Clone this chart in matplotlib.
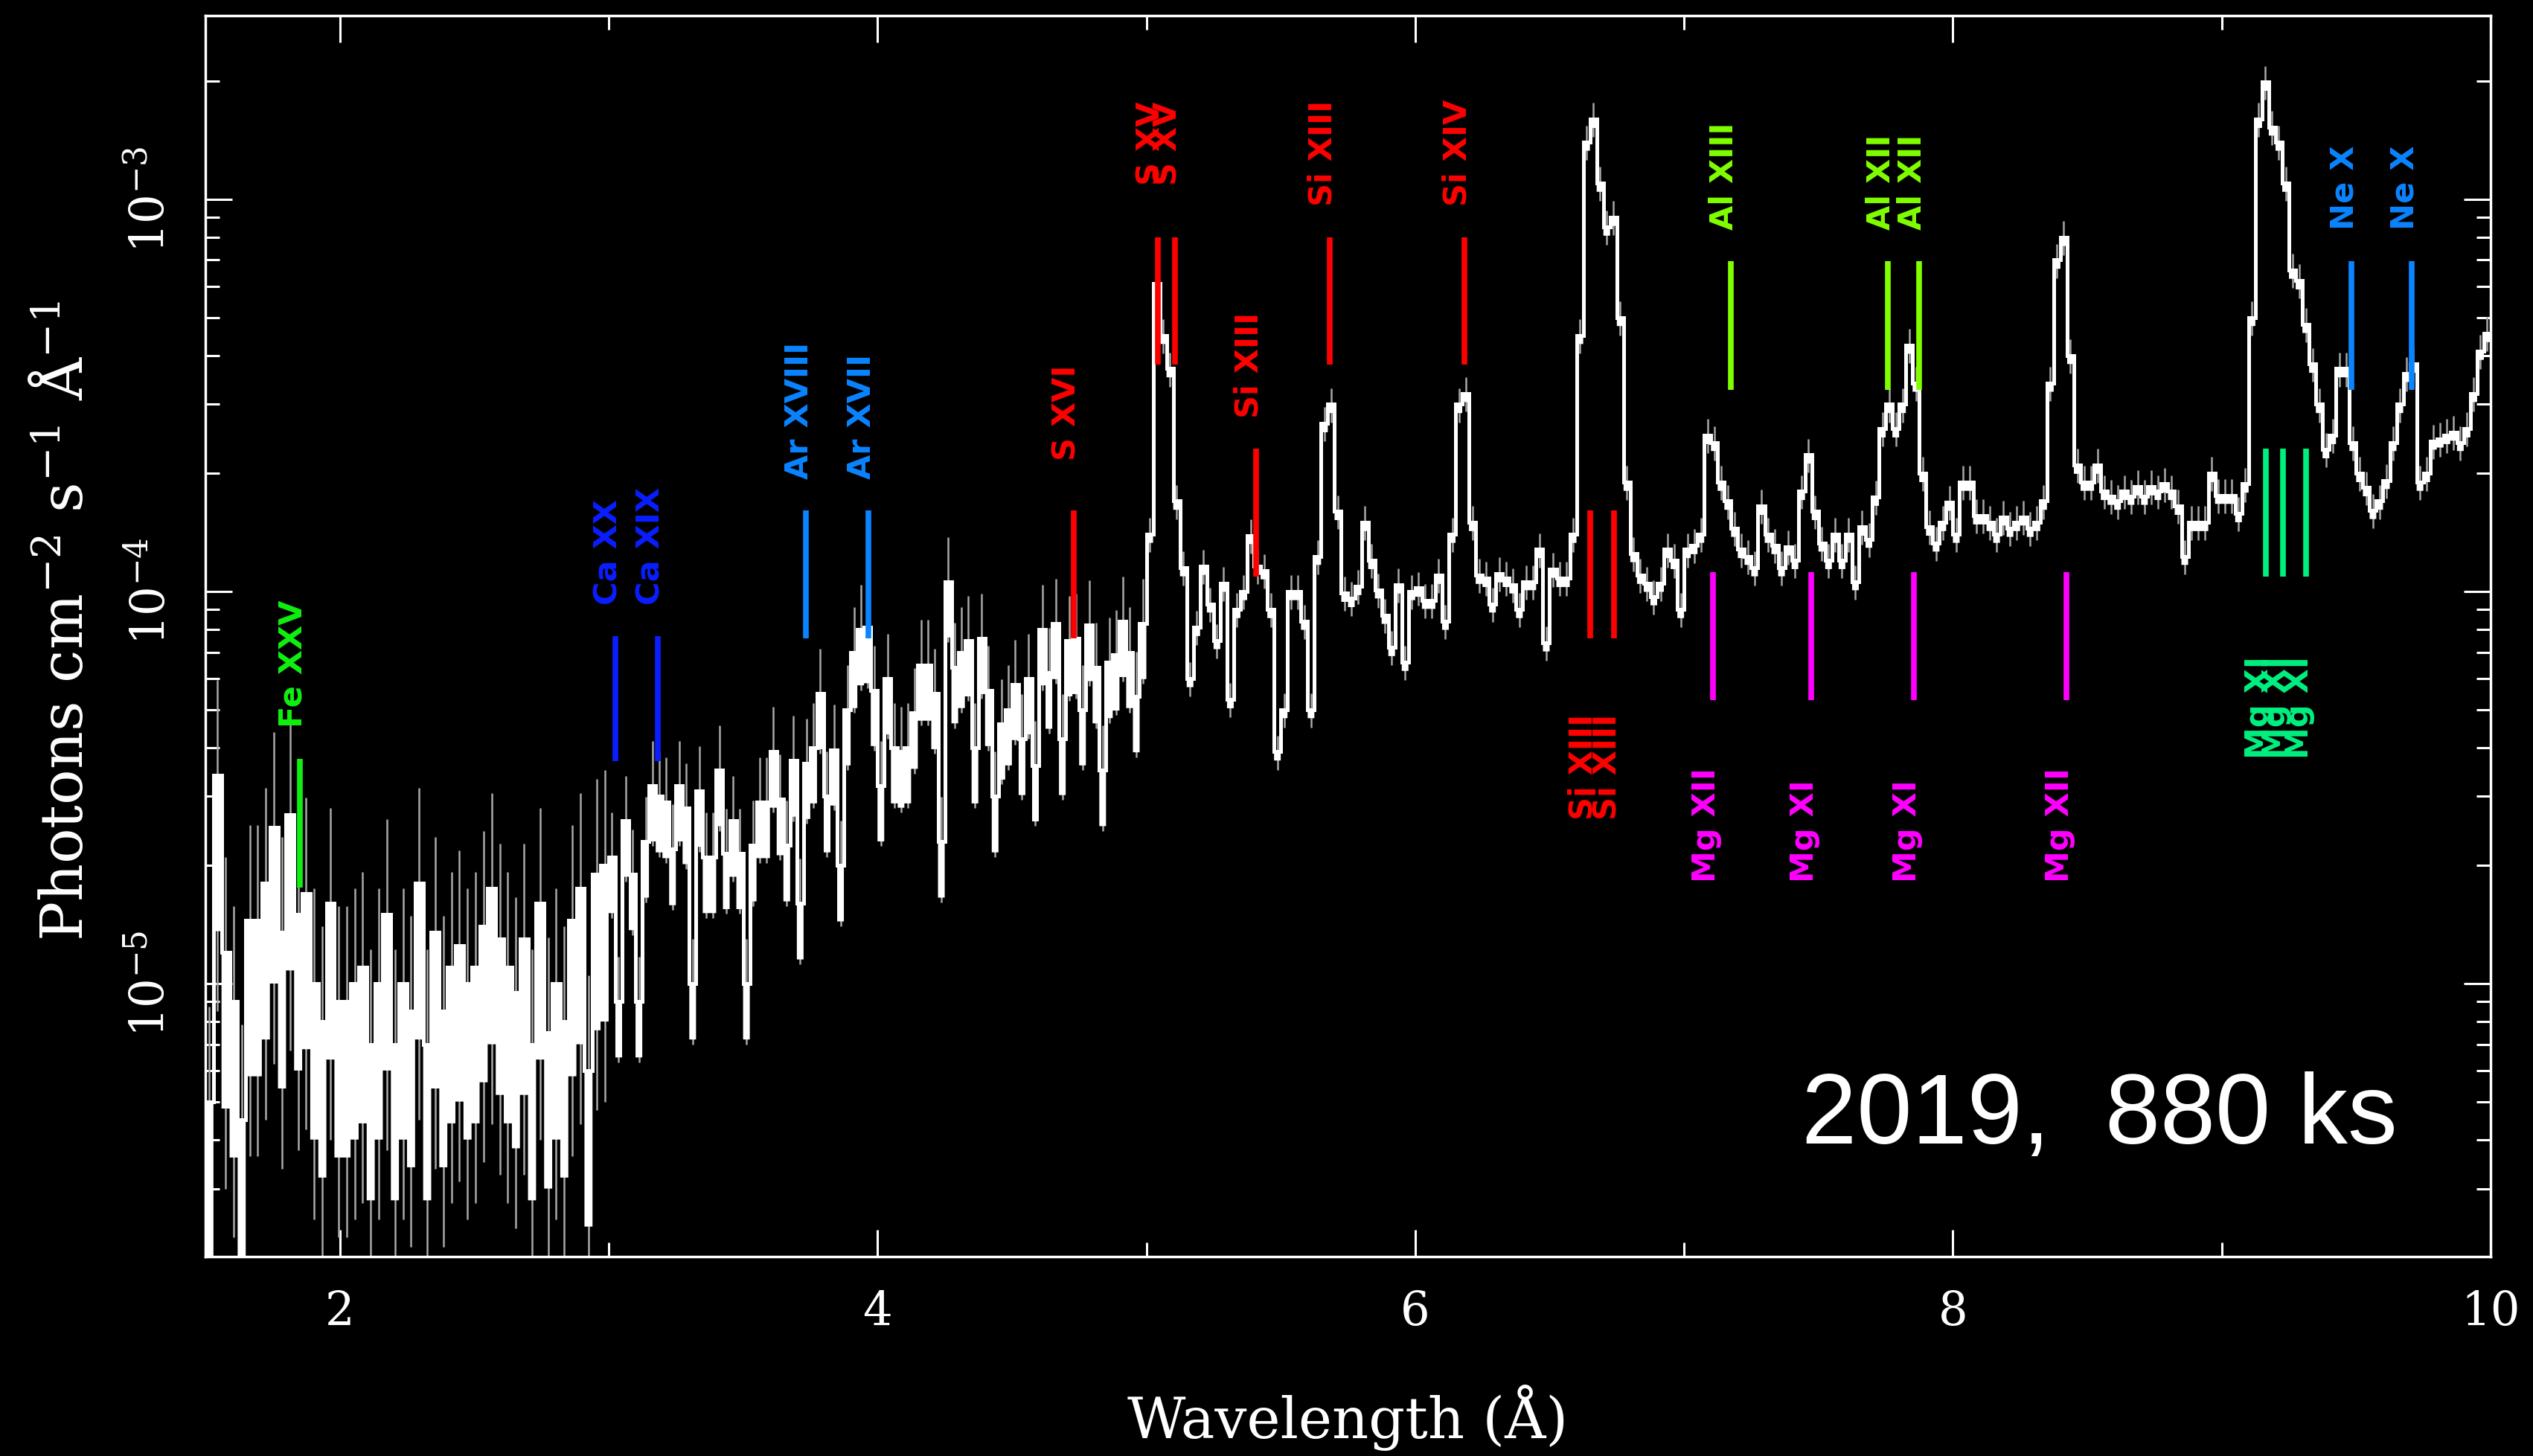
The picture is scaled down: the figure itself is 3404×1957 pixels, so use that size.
import numpy as np
import matplotlib
matplotlib.use("Agg")
import matplotlib.pyplot as plt
from matplotlib.ticker import MultipleLocator, LogLocator, NullFormatter, LogFormatterMathtext

# ---------------- data (flux in units of 1e-5 photons cm^-2 s^-1 A^-1) ----------------
seg_a_start, seg_a_width = 1.50, 0.03
flux_a = [0.5, 3.4, 1.2, 0.9, 0.45, 1.45, 1.45, 1.8, 2.5, 1.35,
          2.7, 1.5, 1.7, 1.0, 0.8, 1.6, 0.9, 0.9, 1.0, 1.1,
          0.7, 1.0, 1.5, 0.7, 1.0, 0.85, 1.8, 0.7, 1.35, 0.85,
          1.1, 1.25, 1.0, 1.1, 1.4, 1.75, 1.3, 1.1, 0.95, 1.3,
          0.7, 1.6, 0.75, 1.0, 0.8, 1.45, 1.75, 0.6, 1.9, 2.0]

seg_b_start, seg_b_width = 3.00, 0.025
flux_b = [2.1, 0.9, 2.6, 1.9, 0.9, 2.3, 3.2, 3.0, 2.9, 2.2,
          3.2, 2.8, 1.0, 3.1, 2.1, 2.1, 3.5, 2.15, 2.6, 2.15,
          1.0, 2.25, 2.9, 2.9, 3.9, 2.95, 2.25, 3.7, 1.6, 3.65,
          4.0, 5.5, 3.0, 3.95, 2.0, 5.0, 7.0, 8.0, 8.1, 5.6,
          3.2, 6.0, 4.0, 3.9, 4.0, 4.9, 6.5, 6.5, 5.5, 2.3,
          10.6, 6.4, 7.0, 7.5, 4.0, 7.6, 5.6, 3.0, 4.6, 5.0,
          5.8, 4.2, 6.0, 3.6, 8.0, 6.2, 8.3, 4.2, 7.5, 7.6,
          5.0, 8.2, 6.4, 3.5, 6.6, 6.9, 8.4, 7.0, 5.4, 8.3]

seg_c_start, seg_c_width = 5.00, 0.025
flux_c = [14, 61, 45, 37, 17, 11.5, 6.0, 8.1, 11.6, 9.3,
          7.5, 10.5, 5.3, 9.0, 10.0, 13.9, 11.6, 11.3, 9.0, 3.9,
          5.0, 10.0, 10.0, 8.4, 5.0, 12.3, 26.8, 30, 16, 9.9,
          9.6, 10.3, 15.0, 12, 10.1, 8.7, 7.2, 10.4, 6.6, 10.0,
          10.2, 9.5, 9.5, 11.0, 8.4, 14, 30, 32, 15, 11,
          10.8, 9.3, 11.1, 10.8, 10.4, 9.0, 10.6, 10.6, 12.8, 7.4,
          11.4, 10.8, 10.8, 14, 45, 140, 160, 110, 85, 90,
          50, 19, 12.5, 11, 10.5, 9.7, 10.5, 12.8, 12, 9.0,
          12.8, 13.1, 14, 25, 24, 19, 17, 14.5, 12.8, 12.3,
          11.5, 16.5, 14, 13.1, 11.5, 13, 12, 18, 22.3, 16,
          13.3, 12, 14, 12, 14, 10.6, 14.6, 13.6, 17.4, 26,
          30, 26, 30, 42.5, 34, 20, 14.6, 13.3, 15, 16.9,
          14, 19, 19, 15.6, 15.6, 15, 14, 15.5, 14.5, 15,
          15.5, 14.5, 15, 17, 34, 70, 80, 40, 21, 19,
          19, 21, 18, 17.5, 17, 18, 17.5, 18.5, 17.5, 18.5,
          18, 18.8, 18, 16.5, 12.3, 15, 15, 15, 20, 17.6,
          17.6, 17.6, 15.8, 18.8, 50, 160, 199, 153, 140, 110,
          66, 62, 48, 38, 30, 23, 25, 37, 37, 24,
          20, 18.4, 16.1, 17, 19.2, 24, 30, 36, 38, 19,
          20, 24.2, 24.5, 25, 25.5, 24, 26, 32, 41, 45.5]

# relative 1-sigma error and bin-to-bin scatter read per segment
err_rel = [0.75, 0.30, 0.10]
scatter_rel = [0.6, 0.28, 0.05]

# line identifications
line_wave = [1.851, 3.024, 3.183, 3.734, 3.966, 4.730, 5.043, 5.106, 5.408, 5.682,
             6.183, 6.651, 6.739, 7.108, 7.473, 7.855, 8.422, 7.174, 7.758, 7.874,
             9.164, 9.228, 9.313, 9.482, 9.707]
line_label = ["Fe XXV", "Ca XX", "Ca XIX", "Ar XVIII", "Ar XVII", "S XVI", "S XV", "S XV",
              "Si XIII", "Si XIII", "Si XIV", "Si XIII", "Si XIII", "Mg XII", "Mg XI",
              "Mg XI", "Mg XII", "Al XIII", "Al XII", "Al XII", "Mg XI", "Mg XI", "Mg XI",
              "Ne X", "Ne X"]
line_lo = [1.76, 3.69, 3.69, 7.59, 7.59, 7.59, 37.9, 37.9, 10.9, 37.9,
           37.9, 7.59, 7.59, 5.28, 5.28, 5.28, 5.28, 32.7, 32.7, 32.7,
           10.9, 10.9, 10.9, 32.7, 32.7]
line_hi = [3.74, 7.69, 7.69, 16.1, 16.1, 16.1, 80, 80, 23.1, 80,
           80, 16.1, 16.1, 11.2, 11.2, 11.2, 11.2, 69.6, 69.6, 69.6,
           23.1, 23.1, 23.1, 69.6, 69.6]
line_side = ["above"] * 11 + ["below"] * 6 + ["above"] * 3 + ["below"] * 3 + ["above"] * 2

# ---------------- styles ----------------
C_FE = "#10f010"
C_CA = "#0a1eff"
C_AR = "#0a84ff"
C_S = "#ff0000"
C_MG = "#ff00ff"
C_AL = "#80ff00"
C_MG11 = "#00f080"
line_color = [C_FE, C_CA, C_CA, C_AR, C_AR, C_S, C_S, C_S, C_S, C_S,
              C_S, C_S, C_S, C_MG, C_MG, C_MG, C_MG, C_AL, C_AL, C_AL,
              C_MG11, C_MG11, C_MG11, C_AR, C_AR]
label_gap = [30, 30, 30, 30, 30, 48, 50, 50, 30, 30,
             30, 176, 176, 176, 176, 176, 176, 30, 30, 30,
             176, 176, 176, 30, 30]

plt.rcParams["font.family"] = ["DejaVu Serif"]
plt.rcParams["mathtext.fontset"] = "dejavuserif"

W, H = 3405, 1957
fig = plt.figure(figsize=(W / 100, H / 100), dpi=100, facecolor="black")
ax = fig.add_axes([276 / W, 1 - 1689 / H, (3347 - 276) / W, (1689 - 21) / H])
ax.set_facecolor("black")

# build spectrum
edges, vals, errs, scat = [], [], [], []
for start, width, fl, er, sc in [(seg_a_start, seg_a_width, flux_a, err_rel[0], scatter_rel[0]),
                                 (seg_b_start, seg_b_width, flux_b, err_rel[1], scatter_rel[1]),
                                 (seg_c_start, seg_c_width, flux_c, err_rel[2], scatter_rel[2])]:
    n = len(fl)
    e = start + width * np.arange(n + 1)
    if edges:
        edges = edges[:-1]
    edges = list(edges) + list(e)
    vals += list(fl)
    errs += [er] * n
    scat += [sc] * n
edges = np.array(edges)
vals = np.array(vals) * 1e-5
errs = np.array(errs) * vals
band_low = vals * (1 - np.array(scat))
centers = 0.5 * (edges[:-1] + edges[1:])

ylo, yhi = 2.012e-6, 2.94e-3
lo = np.clip(vals - errs, 1e-7, None)
hi = vals + errs
ax.vlines(centers, lo, hi, color="#a8a8a8", lw=1.8, zorder=2)
ax.stairs(vals, edges, baseline=band_low, fill=True, color="white", lw=0, zorder=3)
ax.stairs(vals, edges, color="white", lw=3.6, baseline=None, zorder=3)

# line markers
for w, lab, l, h, side, c, gap in zip(line_wave, line_label, line_lo, line_hi,
                                       line_side, line_color, label_gap):
    ax.vlines(w, l * 1e-5, h * 1e-5, color=c, lw=5.5, zorder=4)
    if side == "above":
        xy, off = (w, h * 1e-5), (2, gap)
    else:
        xy, off = (w, l * 1e-5), (2, -gap)
    ax.annotate(lab, xy=xy, xytext=off, textcoords="offset points",
                rotation=90, rotation_mode="anchor", ha="left", va="baseline",
                color=c, fontsize=31, fontweight="bold", family=["DejaVu Sans"],
                zorder=5, annotation_clip=False)

ax.set_xlim(1.5, 10)
ax.set_yscale("log")
ax.set_ylim(ylo, yhi)

ax.xaxis.set_major_locator(MultipleLocator(2))
ax.xaxis.set_minor_locator(MultipleLocator(1))
ax.yaxis.set_major_locator(LogLocator(base=10, numticks=10))
ax.yaxis.set_minor_locator(LogLocator(base=10, subs=np.arange(2, 10), numticks=20))
ax.yaxis.set_minor_formatter(NullFormatter())
ax.yaxis.set_major_formatter(LogFormatterMathtext())

ax.tick_params(which="both", direction="in", top=True, right=True,
               color="white", labelcolor="white", width=2.2)
ax.tick_params(which="major", length=26, labelsize=45)
ax.tick_params(which="minor", length=14)
ax.tick_params(axis="x", which="major", pad=32)
ax.tick_params(axis="y", which="major", pad=30, labelrotation=90)
for lab in ax.get_yticklabels():
    lab.set_verticalalignment("center")
for s in ax.spines.values():
    s.set_color("white")
    s.set_linewidth(2.5)

fig.text(0.532, 1 - 1906 / H, "Wavelength (Å)", color="white", fontsize=55,
         ha="center", va="center")
fig.text(88 / W, 1 - 835 / H, r"Photons cm$^{-2}$ s$^{-1}$ Å$^{-1}$", color="white",
         fontsize=57, rotation=90, ha="center", va="center")
fig.text(2421 / W, 1 - 1537 / H, "2019,  880 ks", color="white", fontsize=96,
         family=["Liberation Sans"], ha="left", va="baseline")

fig.savefig("out.png", dpi=100, facecolor="black")
